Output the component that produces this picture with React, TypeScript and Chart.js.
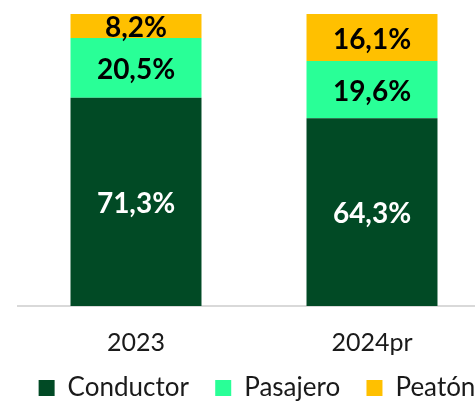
import React, { useEffect, useRef } from "react";
import { Chart, registerables } from "chart.js";

Chart.register(...registerables);

const categories = ["2023", "2024pr"];
const conductor = [71.3, 64.3];
const pasajero = [20.5, 19.6];
const peaton = [8.2, 16.1];
const seriesNames = ["Conductor", "Pasajero", "Peatón"];

const labelPlugin = {
  id: "segLabels",
  afterDatasetsDraw(chart: any) {
    const ctx = chart.ctx;
    ctx.save();
    ctx.font = "bold 28px Lato";
    ctx.textAlign = "center";
    ctx.textBaseline = "middle";
    chart.data.datasets.forEach((ds: any, di: number) => {
      const meta = chart.getDatasetMeta(di);
      meta.data.forEach((bar: any, i: number) => {
        const v = ds.data[i];
        const y = (bar.y + bar.base) / 2;
        ctx.fillStyle = di === 0 ? "#ffffff" : "#000000";
        ctx.fillText(v.toFixed(1).replace(".", ",") + "%", bar.x, y + 2);
      });
    });
    ctx.restore();
  },
};

export default function App() {
  const ref = useRef<HTMLCanvasElement>(null);
  useEffect(() => {
    const chart = new Chart(ref.current!, {
      type: "bar",
      data: {
        labels: categories,
        datasets: [
          { label: seriesNames[0], data: conductor, backgroundColor: "#014a25" },
          { label: seriesNames[1], data: pasajero, backgroundColor: "#29ff97" },
          { label: seriesNames[2], data: peaton, backgroundColor: "#ffc000" },
        ],
      },
      options: {
        responsive: false,
        animation: false,
        layout: { padding: { left: 0, right: 0, top: 14, bottom: 0 } },
        datasets: { bar: { barPercentage: 0.555, categoryPercentage: 1 } },
        scales: {
          x: {
            stacked: true,
            grid: { display: false, drawTicks: false },
            border: { display: true, color: "#d9d9d9", width: 2 },
            ticks: { font: { family: "Lato", size: 25 }, color: "#1a1a1a", padding: 22 },
            afterFit(scale: any) {
              scale.height = 56;
            },
          },
          y: {
            stacked: true,
            display: true,
            min: 0,
            max: 100,
            grid: { display: false, drawTicks: false },
            border: { display: false },
            ticks: { display: false },
            afterFit(scale: any) {
              scale.width = 18;
            },
          },
          y2: {
            type: "linear",
            position: "right",
            display: true,
            grid: { display: false, drawTicks: false },
            border: { display: false },
            ticks: { display: false },
            afterFit(scale: any) {
              scale.width = 24;
            },
          },
        },
        plugins: {
          tooltip: { enabled: false },
          legend: {
            position: "bottom",
            labels: {
              boxWidth: 16,
              boxHeight: 16,
              padding: 13,
              font: { family: "Lato", size: 26 },
              color: "#1a1a1a",
              generateLabels(c: any) {
                const items = Chart.defaults.plugins.legend.labels.generateLabels(c);
                return items.map((it: any, i: number) => ({
                  ...it,
                  text: i < items.length - 1 ? it.text + "  " : it.text,
                  lineWidth: 0,
                }));
              },
            },
          },
        },
      },
      plugins: [labelPlugin],
    });
    return () => chart.destroy();
  }, []);
  return (
    <div style={{ position: "fixed", left: 0, top: 0, width: 475, height: 402, overflow: "hidden" }}>
      <canvas ref={ref} width={514} height={411} style={{ display: "block" }} />
    </div>
  );
}
